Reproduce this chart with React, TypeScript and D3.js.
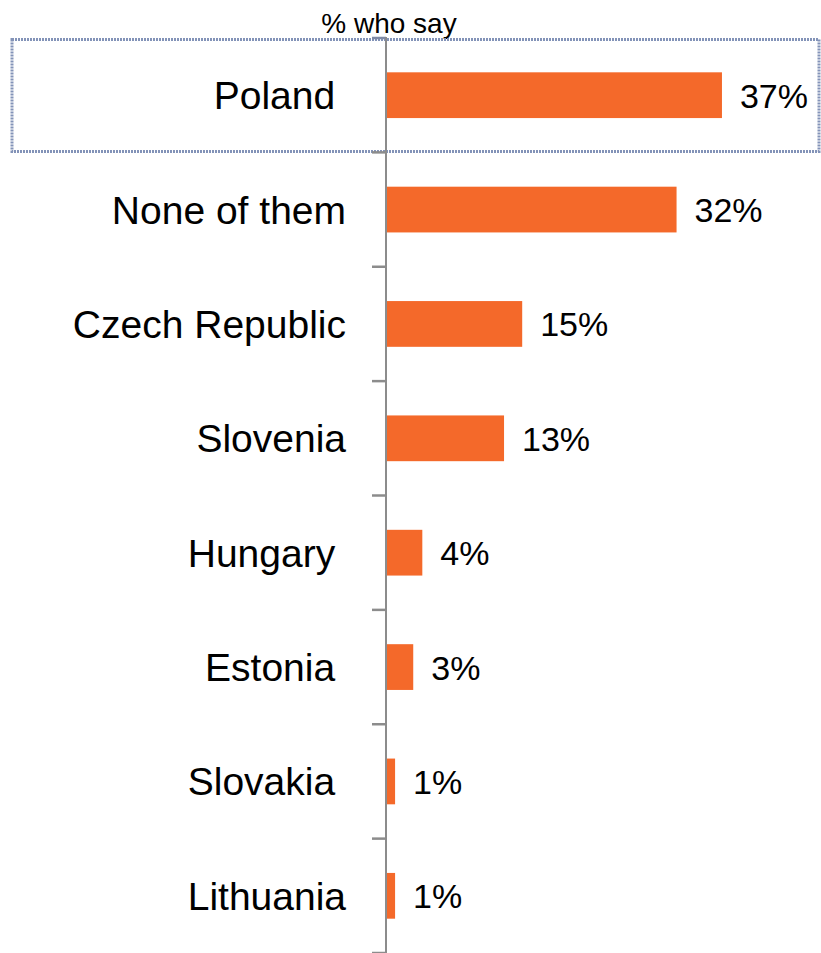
import React from "react";
import * as d3 from "d3";

const categories = ["Poland ", "None of them", "Czech Republic", "Slovenia", "Hungary ", "Estonia ", "Slovakia ", "Lithuania"];
const values = [37, 32, 15, 13, 4, 3, 1, 1];
const valueLabels = ["37%", "32%", "15%", "13%", "4%", "3%", "1%", "1%"];
const title = "% who say";

const W = 821;
const H = 953;

export default function App() {
  const x = d3.scaleLinear().domain([0, 40]).range([386, 386 + 40 * 9.08]);
  const y = d3.scaleBand<string>().domain(categories).range([38, 953]).paddingInner(0.6).paddingOuter(0.3);
  const bandStep = y.step();
  const bounds = categories.map((c) => (y(c) as number) - (y.paddingOuter() * bandStep));
  const font = "'Liberation Sans', Arial, sans-serif";
  return (
    <svg width={W} height={H} style={{ position: "absolute", left: 0, top: 0, background: "#fff" }}>
      <text x={389} y={33} textAnchor="middle" fontFamily={font} fontSize={28} fill="#000">{title}</text>
      <rect x={12} y={39.5} width={807} height={112} fill="none" stroke="#8393b8" strokeWidth={3} strokeDasharray="2,1" />
      {categories.map((c, i) => {
        const yy = y(c) as number;
        const bh = y.bandwidth();
        const cy = yy + bh / 2;
        return (
          <g key={c}>
            <rect x={x(0)} y={yy} width={x(values[i]) - x(0)} height={bh} fill="#F4692A" />
            <text x={346} y={cy + 14} textAnchor="end" fontFamily={font} fontSize={39} fill="#000" style={{ whiteSpace: "pre" }}>{c}</text>
            <text x={x(values[i]) + 18} y={cy + 12.5} fontFamily={font} fontSize={34} fill="#000">{valueLabels[i]}</text>
          </g>
        );
      })}
      {bounds.concat([953]).map((b, i) => (
        <line key={i} x1={372} x2={386} y1={b} y2={b} stroke={i === 0 ? "#7f8aa6" : "#8c8c8c"} strokeWidth={2.5} />
      ))}
      <line x1={386} x2={386} y1={37} y2={953} stroke="#8c8c8c" strokeWidth={2} />
    </svg>
  );
}
